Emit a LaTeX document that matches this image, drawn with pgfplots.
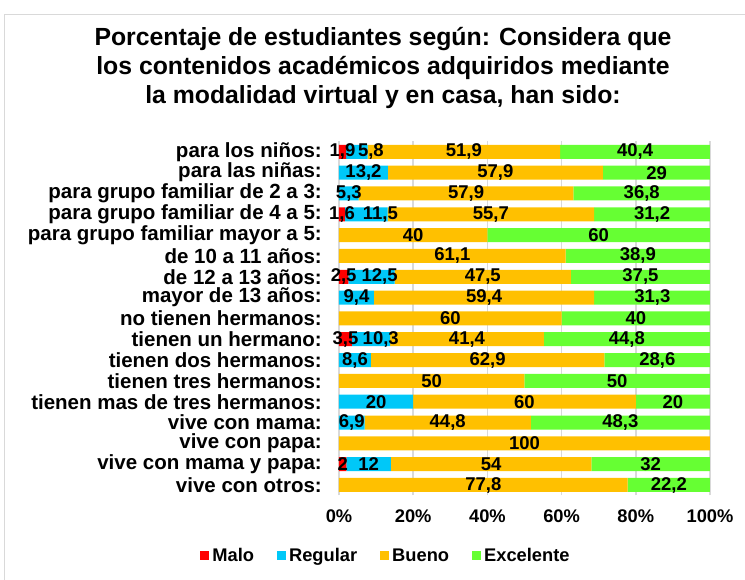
\documentclass[border=0pt]{standalone}
\usepackage{pgfplots}
\pgfplotsset{compat=1.18}
\usepackage{pgfplotstable}
\usepackage{fontspec}
\setmainfont{Liberation Sans}
\definecolor{cMalo}{HTML}{FF0000}
\definecolor{cReg}{HTML}{00C8F8}
\definecolor{cBue}{HTML}{FFC000}
\definecolor{cExc}{HTML}{66FF33}
\definecolor{gridc}{HTML}{D9D9D9}

% S = small horizontal offset (in %) of the Regular data label, as in the reference
\pgfplotstableread{
y M R B E S
16 1.9 5.8 51.9 40.4 3.8
15 0 13.2 57.9 29 0
14 0 5.3 57.9 36.8 0
13 1.6 11.5 55.7 31.2 3.8
12 0 0 40 60 0
11 0 0 61.1 38.9 0
10 2.5 12.5 47.5 37.5 2.2
9 0 9.4 59.4 31.3 0
8 0 0 60 40 0
7 3.5 10.3 41.4 44.8 2.6
6 0 8.6 62.9 28.6 0
5 0 0 50 50 0
4 0 20 60 20 0
3 0 6.9 44.8 48.3 0
2 0 0 100 0 0
1 2 12 54 32 0
0 0 0 77.8 22.2 0
}\datatable

\pgfplotsset{
  geom/.style={
    at={(0pt,0pt)}, anchor=south west,
    scale only axis, width=371pt, height=354pt,
    xmin=0, xmax=100, ymin=-0.5, ymax=16.5,
  }
}

\begin{document}
\begin{tikzpicture}
\begin{axis}[
  geom,
  xbar stacked, bar width=14pt,
  ytick={0,...,16},
  yticklabels={vive con otros:, vive con mama y papa:, vive con papa:, vive con mama:, tienen mas de tres hermanos:, tienen tres hermanos:, tienen dos hermanos:, tienen un hermano:, no tienen hermanos:, mayor de 13 años:, de 12 a 13 años:, de 10 a 11 años:, para grupo familiar mayor a 5:, para grupo familiar de 4 a 5:, para grupo familiar de 2 a 3:, para las niñas:, para los niños:},
  xtick={0,20,...,100},
  xticklabels={0\%,20\%,40\%,60\%,80\%,100\%},
  major tick length=0pt,
  axis line style={draw=none},
  xmajorgrids, grid style={draw=gridc, line width=1.6pt},
  yticklabel style={font=\fontsize{20.5}{22}\selectfont\bfseries, anchor=east, inner sep=0pt, xshift=-17pt},
  xticklabel style={font=\fontsize{18.3}{20}\selectfont\bfseries, anchor=north, inner sep=0pt, yshift=-14pt},
  title={Porcentaje de estudiantes según: Considera que\\los contenidos académicos adquiridos mediante\\la modalidad virtual y en casa, han sido:},
  title style={font=\fontsize{24.8}{28.6}\selectfont\bfseries, align=center, anchor=north, inner sep=0pt, at={(rel axis cs:0.1186,1.305)}},
  legend columns=4,
  legend style={draw=none, fill=none, at={(rel axis cs:0.128,-0.171)}, anchor=center,
    font=\fontsize{18.3}{20}\selectfont\bfseries,
    /tikz/every even column/.append style={column sep=20pt},
    nodes={inner sep=3pt}},
  legend image code/.code={\fill[#1,draw=none] (0pt,-4.5pt) rectangle (9pt,4.5pt);},
]
\addplot[fill=cMalo, draw=none] table[x=M, y=y] {\datatable};
\addplot[fill=cReg, draw=none] table[x=R, y=y] {\datatable};
\addplot[fill=cBue, draw=none] table[x=B, y=y] {\datatable};
\addplot[fill=cExc, draw=none] table[x=E, y=y] {\datatable};
\legend{Malo, Regular, Bueno, Excelente}
\end{axis}
\begin{axis}[
  geom, hide axis,
  /pgf/number format/assume math mode=true,
  /pgf/number format/use comma,
  point meta=explicit,
  nodes near coords={\pgfmathfloatifflags{\pgfplotspointmeta}{0}{}{\pgfmathprintnumber{\pgfplotspointmeta}}},
  nodes near coords style={font=\fontsize{18.5}{20}\selectfont\bfseries, text=black, anchor=center, inner sep=0pt},
]
\addplot[draw=none, mark=none] table[x expr=\thisrow{M}/2, y=y, meta=M] {\datatable};
\addplot[draw=none, mark=none] table[x expr=\thisrow{M}+\thisrow{R}/2+\thisrow{S}, y=y, meta=R] {\datatable};
\addplot[draw=none, mark=none] table[x expr=\thisrow{M}+\thisrow{R}+\thisrow{B}/2, y=y, meta=B] {\datatable};
\addplot[draw=none, mark=none] table[x expr=\thisrow{M}+\thisrow{R}+\thisrow{B}+\thisrow{E}/2, y=y, meta=E] {\datatable};
\end{axis}
\draw[gridc, line width=1pt] (-334pt,-100pt) -- (-334pt,480.4pt) -- (420pt,480.4pt);
\pgfresetboundingbox
\path[use as bounding box] (-339pt,-83.6pt) rectangle ++(745pt,579pt);
\end{tikzpicture}
\end{document}
